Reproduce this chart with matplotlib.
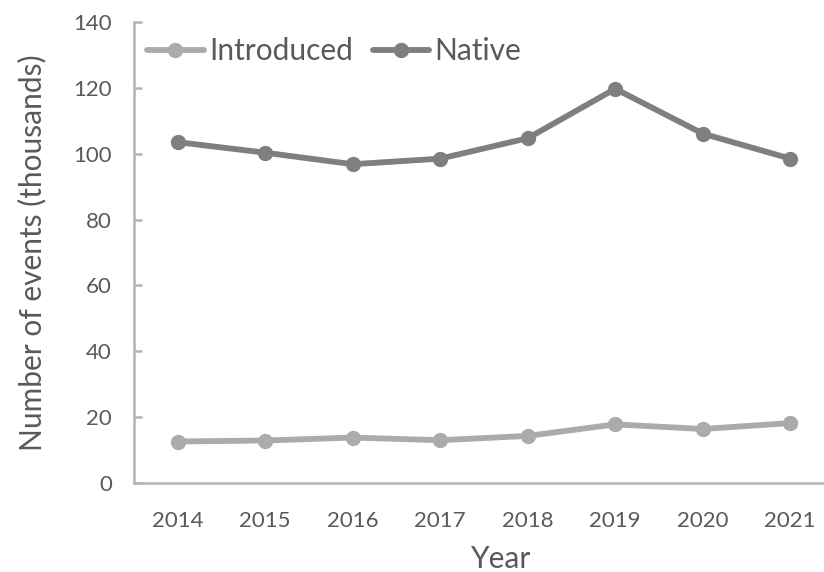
import matplotlib
matplotlib.use("Agg")
import matplotlib.pyplot as plt

years = ["2014", "2015", "2016", "2017", "2018", "2019", "2020", "2021"]
introduced = [12.6, 12.9, 13.8, 13.0, 14.3, 17.8, 16.4, 18.2]
native = [103.5, 100.3, 96.8, 98.5, 104.7, 119.7, 106.1, 98.5]
y_ticks = [0, 20, 40, 60, 80, 100, 120, 140]

text_color = "#595959"
axis_color = "#b4b4b4"
plt.rcParams["font.family"] = ["Lato", "DejaVu Sans"]

fig = plt.figure(figsize=(8.24, 5.72), dpi=100)
ax = fig.add_axes([0.1626, 0.1556, 0.8495, 0.806])

x = list(range(len(years)))
ax.plot(x, introduced, color="#ababab", lw=4.2, marker="o", ms=10,
        solid_capstyle="round", label="Introduced", zorder=3)
ax.plot(x, native, color="#7f7f7f", lw=4.2, marker="o", ms=10,
        solid_capstyle="round", label="Native", zorder=3)

ax.set_xlim(-0.5, 7.5)
ax.set_ylim(0, 140)
ax.set_xticks(x)
ax.set_xticklabels(years)
ax.set_yticks(y_ticks)

for s in ["top", "right"]:
    ax.spines[s].set_visible(False)
for s in ["left", "bottom"]:
    ax.spines[s].set_color(axis_color)
    ax.spines[s].set_linewidth(1.8)

ax.tick_params(axis="y", direction="in", length=6, width=1.8, color=axis_color,
               labelsize=16, labelcolor=text_color, pad=16)
ax.tick_params(axis="x", length=0, labelsize=16, labelcolor=text_color, pad=20)

ax.set_xlabel("Year", fontsize=21.5, color=text_color, va="center")
ax.xaxis.set_label_coords(0.524, -0.1655)
ax.set_ylabel("Number of events (thousands)", fontsize=21.5, color=text_color, va="center")
ax.yaxis.set_label_coords(-0.1457, 0.5)

leg = ax.legend(loc="center left", bbox_to_anchor=(147 / 824, 1 - 51 / 572),
                bbox_transform=fig.transFigure, ncol=2, frameon=False, fontsize=21.5,
                handlelength=1.9, handletextpad=0.17, columnspacing=0.67,
                borderaxespad=0, borderpad=0)
for t in leg.get_texts():
    t.set_color(text_color)

fig.savefig("out.png", dpi=100)
